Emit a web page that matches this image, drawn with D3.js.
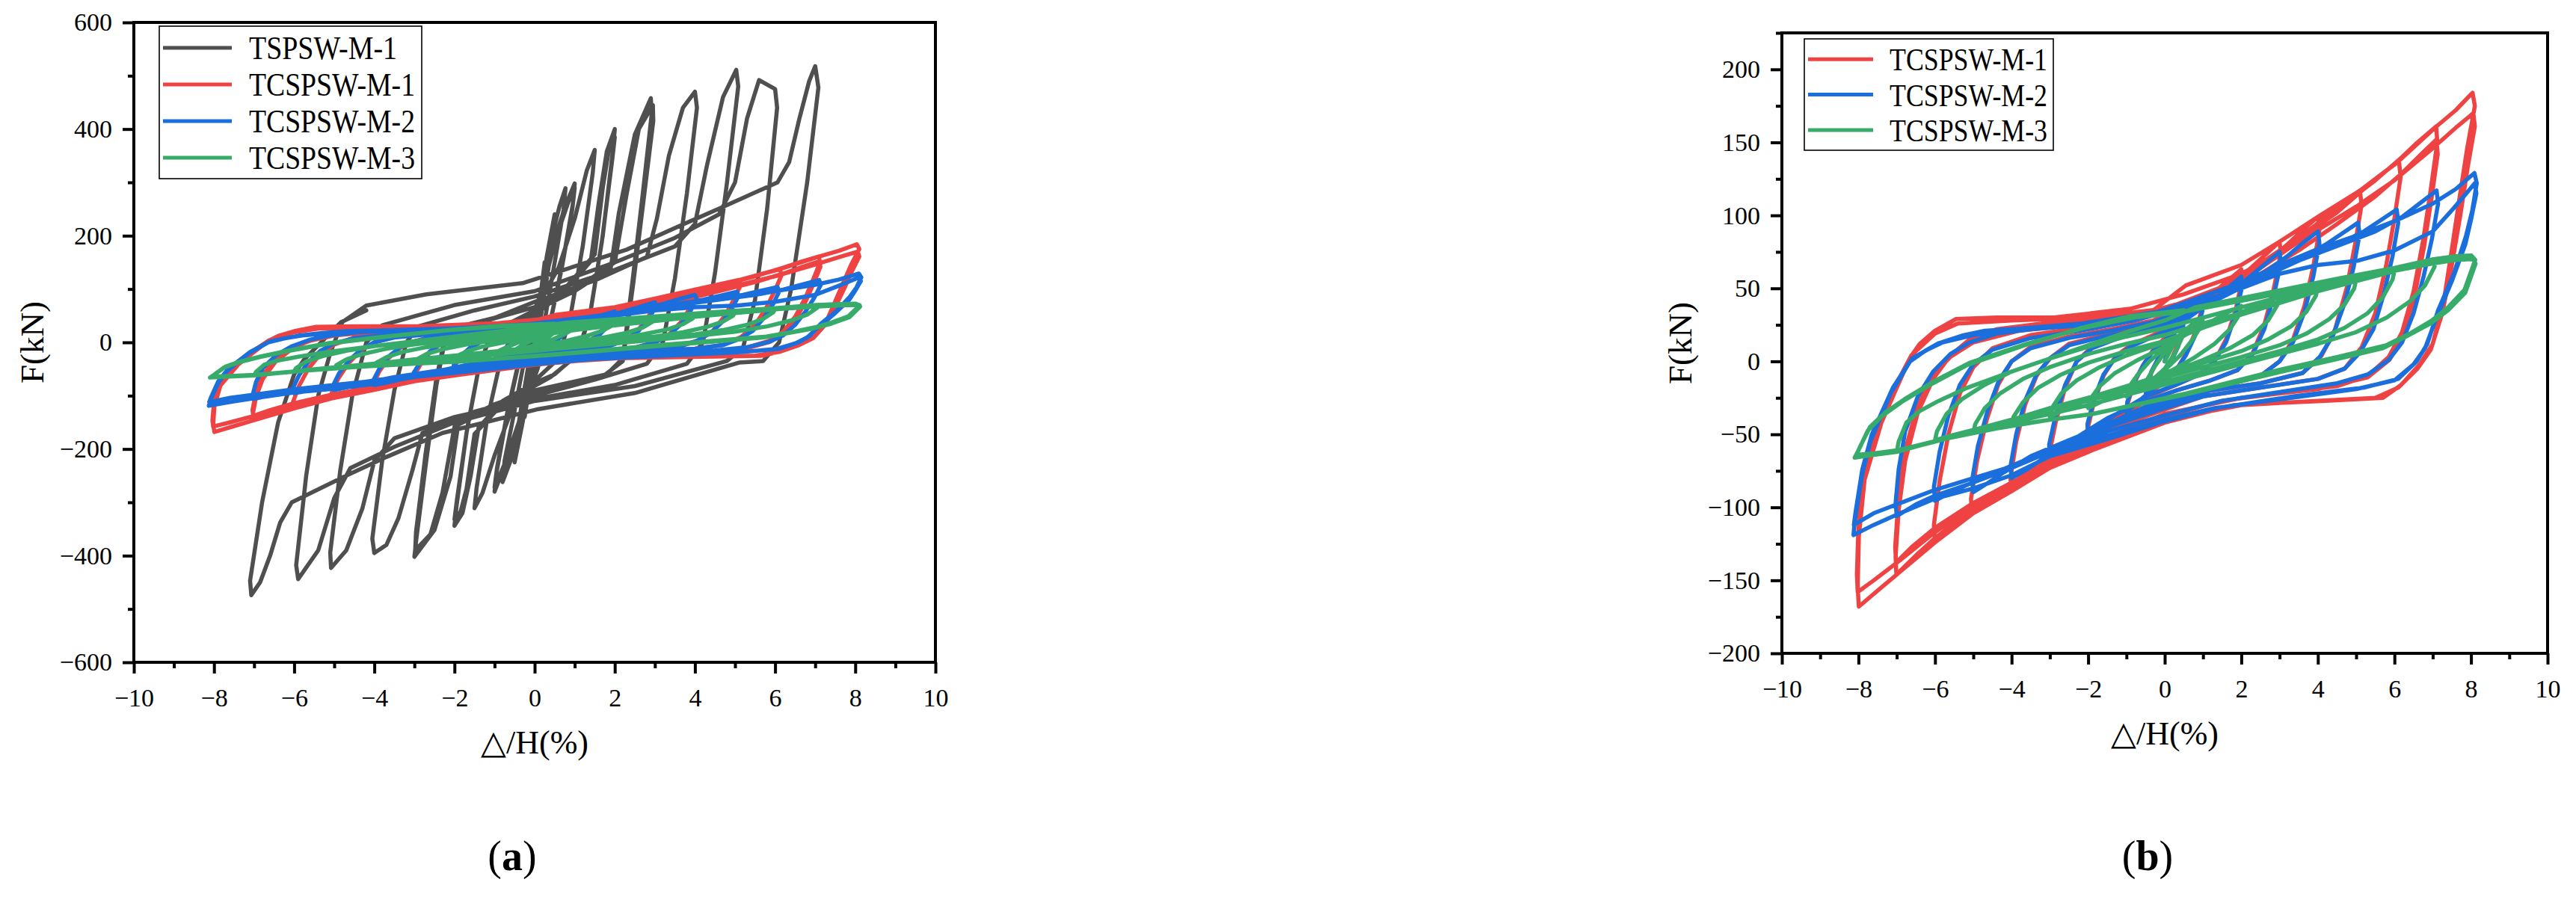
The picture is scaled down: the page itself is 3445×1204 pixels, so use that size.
<!DOCTYPE html>
<html>
<head>
    <meta charset="utf-8">
    <title>hysteresis curves</title>
    <script src="https://d3js.org/d3.v7.min.js"></script>
    <style>
        body{
            margin:0;
            background:#fff;
        }
        svg text{
            font-family:"Liberation Serif","Times New Roman",serif;
        }
    </style>
</head>
<body>
<div id="chart"></div>
<script type="text/javascript">
    // names, colours, ticks
    var namesA = ["TSPSW-M-1","TCSPSW-M-1","TCSPSW-M-2","TCSPSW-M-3"]
    var namesB = ["TCSPSW-M-1","TCSPSW-M-2","TCSPSW-M-3"]
    var colors = {"TSPSW-M-1":"#4f4f4f","TCSPSW-M-1":"#ef4343","TCSPSW-M-2":"#1b6fdc","TCSPSW-M-3":"#37ac6a"}
    var xTicks = [-10,-8,-6,-4,-2,0,2,4,6,8,10]
    var xMinor = [-9,-7,-5,-3,-1,1,3,5,7,9]
    var yTicksA = [-600,-400,-200,0,200,400,600]
    var yMinorA = [-500,-300,-100,100,300,500]
    var yTicksB = [-200,-150,-100,-50,0,50,100,150,200]
    var yMinorB = [-175,-125,-75,-25,25,75,125,175,225]

    // drift ratio (%) , force (kN) -- one array per cycle
    var tspswM1 = [
        [[0,0],[0.1,60],[0.25,150],[0.22,118],[0.1,40],[0,-18],[-0.1,-70],[-0.25,-140],[-0.22,-108],[-0.1,-38],[0,12]],
        [[0.1,62],[0.3,160],[0.5,240],[0.47,204],[0.3,118],[0.1,22],[-0.1,-62],[-0.3,-150],[-0.5,-225],[-0.47,-188],[-0.3,-108],[-0.1,-18],[0.02,28]],
        [[0.05,30],[0.3,150],[0.5,232],[0.46,196],[0.28,108],[0.08,14],[-0.12,-70],[-0.32,-158],[-0.5,-218],[-0.46,-180],[-0.28,-98],[-0.08,-10],[0.05,30]],
        [[0.15,90],[0.4,190],[0.62,255],[0.77,289],[0.72,248],[0.5,150],[0.25,40],[0,-50],[-0.3,-140],[-0.6,-222],[-0.8,-262],[-0.75,-222],[-0.5,-128],[-0.25,-30],[0,42]],
        [[0.2,112],[0.5,196],[0.8,262],[1.0,298],[0.95,258],[0.7,150],[0.4,42],[0.1,-40],[-0.3,-130],[-0.7,-222],[-1.0,-280],[-0.95,-244],[-0.7,-140],[-0.4,-40],[-0.2,22]],
        [[0.2,100],[0.55,200],[0.85,265],[1.0,290],[0.94,250],[0.68,140],[0.38,34],[0.08,-48],[-0.35,-140],[-0.75,-228],[-1.0,-272],[-0.94,-236],[-0.68,-130],[-0.38,-30],[-0.2,30]],
        [[0,62],[0.6,140],[1.0,232],[1.3,322],[1.5,361],[1.45,318],[1.2,180],[0.9,52],[0.6,-30],[0,-72],[-0.6,-132],[-1.0,-212],[-1.3,-282],[-1.5,-311],[-1.45,-274],[-1.2,-150],[-0.9,-50],[-0.6,10]],
        [[0,50],[0.8,100],[1.4,152],[1.6,262],[1.8,358],[2.0,400],[1.95,358],[1.7,200],[1.4,60],[1.1,-20],[0.5,-60],[0,-76],[-0.8,-110],[-1.4,-160],[-1.6,-252],[-1.8,-320],[-2.0,-344],[-1.95,-308],[-1.7,-170],[-1.4,-50],[-1.1,14]],
        [[0,55],[0.8,105],[1.5,165],[1.7,290],[1.85,360],[2.0,385],[1.94,345],[1.68,190],[1.38,52],[1.05,-25],[0.4,-65],[-0.8,-115],[-1.5,-172],[-1.7,-275],[-1.85,-318],[-2.0,-332],[-1.94,-296],[-1.68,-160],[-1.38,-42],[-1.05,20]],
        [[0,60],[1,96],[1.9,140],[2.1,242],[2.5,390],[2.9,458],[2.92,428],[2.7,280],[2.45,120],[2.2,-30],[1.8,-60],[0,-90],[-1,-116],[-1.9,-150],[-2.1,-252],[-2.5,-352],[-3.0,-402],[-2.95,-368],[-2.7,-220],[-2.45,-80],[-2.2,20]],
        [[0,66],[1,100],[2,150],[2.3,280],[2.6,400],[2.95,445],[2.96,415],[2.72,268],[2.46,110],[2.2,-35],[1.7,-64],[0,-95],[-1,-120],[-2,-158],[-2.3,-282],[-2.6,-360],[-2.98,-390],[-2.96,-356],[-2.72,-208],[-2.46,-72],[-2.2,24]],
        [[-1,46],[0,76],[1.5,116],[2.8,160],[3.05,232],[3.35,350],[3.7,440],[4.0,470],[4.05,440],[3.8,280],[3.5,120],[3.2,0],[2.8,-40],[1.5,-70],[0,-100],[-1.5,-130],[-2.8,-170],[-3.05,-240],[-3.4,-330],[-3.7,-380],[-4.0,-395],[-4.05,-368],[-3.8,-220],[-3.5,-90],[-3.2,0],[-2.9,30]],
        [[-1.5,60],[0,86],[2,136],[3.5,180],[4.0,222],[4.3,332],[4.7,460],[5.03,511],[5.08,480],[4.8,300],[4.5,130],[4.2,0],[3.8,-40],[2,-80],[0,-106],[-2,-140],[-3.5,-180],[-4.0,-222],[-4.3,-312],[-4.7,-390],[-5.08,-423],[-5.1,-394],[-4.85,-240],[-4.55,-100],[-4.2,0],[-3.8,32]],
        [[-2,70],[0,96],[2,150],[3.5,196],[4.6,240],[5.0,300],[5.3,420],[5.6,492],[6.0,475],[6.05,440],[5.8,250],[5.5,80],[5.2,-10],[4.8,-35],[2.5,-82],[0,-110],[-2,-150],[-3.5,-196],[-4.6,-236],[-5.0,-292],[-5.4,-390],[-5.9,-444],[-5.95,-418],[-5.7,-250],[-5.4,-100],[-5.1,-20],[-4.8,38]],
        [[-4.2,69],[-2.7,90],[-0.3,111],[2.3,174],[3.7,221],[4.7,254],[6.06,300],[6.35,338],[6.6,418],[6.85,490],[7.0,518],[7.08,478],[6.8,300],[6.4,100],[6.1,0],[5.7,-35],[5.1,-38],[2.5,-95],[0.1,-125],[-2.3,-170],[-3.7,-215],[-4.7,-250],[-6.06,-300],[-6.35,-338],[-6.6,-400],[-6.85,-450],[-7.07,-474],[-7.1,-447],[-6.8,-300],[-6.4,-150],[-6.0,-60],[-5.75,-32],[-4.83,38],[-4.2,60]]
    ]

    var tcspswM1 = [
        [[0,0],[0.15,14],[0.3,24],[0.5,33],[0.48,26],[0.35,12],[0.15,0],[-0.05,-8],[-0.25,-16],[-0.5,-25],[-0.48,-19],[-0.35,-8],[-0.15,3],[0.05,10]],
        [[0.2,20],[0.5,30],[0.8,40],[1.0,45],[0.98,37],[0.8,20],[0.55,5],[0.3,-6],[0,-14],[-0.4,-22],[-0.75,-31],[-1.0,-37],[-0.98,-30],[-0.8,-15],[-0.55,-2],[-0.3,8],[0,16]],
        [[0.3,26],[1,40],[1.5,52],[2.0,63],[2.02,56],[1.85,35],[1.6,15],[1.3,0],[0.9,-9],[0.3,-16],[-0.5,-25],[-1.2,-38],[-1.6,-46],[-2.0,-55],[-2.02,-47],[-1.85,-28],[-1.6,-10],[-1.3,3],[-0.9,11],[-0.3,18]],
        [[0.2,25],[1,40],[2,58],[2.5,70],[3.0,82],[3.03,74],[2.85,50],[2.6,25],[2.3,6],[1.9,-6],[1.2,-13],[0.3,-20],[-0.6,-29],[-1.5,-42],[-2.3,-57],[-3.0,-73],[-3.02,-64],[-2.85,-42],[-2.6,-18],[-2.3,0],[-1.9,10],[-1.2,17],[-0.4,22]],
        [[0.5,32],[1.5,47],[2.5,64],[3.2,80],[3.6,90],[4.0,99],[4.04,90],[3.88,65],[3.65,38],[3.35,15],[3.0,0],[2.5,-10],[1.5,-17],[0.5,-24],[-0.5,-32],[-1.5,-45],[-2.5,-60],[-3.2,-74],[-3.6,-82],[-4.0,-89],[-4.03,-80],[-3.88,-55],[-3.65,-30],[-3.35,-10],[-3.0,2],[-2.5,12],[-1.6,18],[-0.6,24]],
        [[0.4,34],[1.5,48],[2.5,64],[3.5,82],[4.2,100],[4.6,108],[5.1,117],[5.14,107],[4.97,80],[4.75,50],[4.45,22],[4.1,4],[3.6,-8],[2.5,-15],[1.2,-20],[0,-30],[-1.2,-42],[-2.5,-60],[-3.5,-74],[-4.2,-88],[-4.6,-96],[-5.04,-104],[-5.06,-94],[-4.9,-68],[-4.65,-40],[-4.35,-16],[-4.0,0],[-3.5,10],[-2.5,17],[-1.4,22],[-0.3,28]],
        [[0.3,36],[1.5,50],[2.5,66],[3.5,84],[4.5,102],[5.2,118],[5.6,127],[6.12,137],[6.16,126],[6.0,98],[5.78,65],[5.5,33],[5.15,10],[4.7,-5],[4.0,-12],[2.5,-18],[1,-24],[0,-33],[-1.5,-47],[-2.5,-61],[-3.5,-76],[-4.5,-92],[-5.2,-106],[-5.6,-114],[-6.0,-124],[-6.03,-112],[-5.88,-82],[-5.65,-50],[-5.35,-22],[-5.0,-4],[-4.5,9],[-3.5,18],[-2.2,23],[-0.8,30]],
        [[0.2,38],[1.5,51],[2.5,67],[3.5,85],[4.5,104],[5.5,124],[6.2,140],[6.6,150],[7.09,161],[7.12,150],[6.95,118],[6.75,83],[6.5,48],[6.2,20],[5.85,3],[5.3,-10],[4.5,-17],[3,-22],[1.5,-27],[0,-38],[-1.5,-52],[-3,-70],[-4,-86],[-5,-101],[-6,-121],[-6.5,-133],[-7.01,-146],[-7.03,-134],[-6.95,-102],[-6.78,-68],[-6.45,-35],[-6.05,-12],[-5.6,4],[-5.1,15],[-4.4,22],[-3.2,26],[-1.8,29],[-0.4,34]],
        [[1,44],[2.5,60],[3.5,76],[4.5,94],[5.5,113],[6.2,129],[6.7,142],[7.1,152],[7.13,142],[6.97,112],[6.77,78],[6.52,44],[6.22,17],[5.87,1],[5.3,-11],[4,-19],[2,-25],[0,-36],[-2,-57],[-3.5,-76],[-5,-97],[-6,-114],[-6.6,-127],[-7.02,-138],[-7.04,-127],[-6.96,-96],[-6.8,-63],[-6.48,-32],[-6.08,-10],[-5.6,3],[-5,13],[-3.8,21],[-2,26],[-0.5,31]],
        [[0.55,52],[2,66],[3,82],[4,99],[5.1,117],[6.1,137],[7.1,161],[7.6,172],[8.04,184],[8.1,175],[7.9,146],[7.7,112],[7.5,77],[7.3,43],[7.0,12],[6.66,-2],[6.18,-16],[5.7,-25],[4.2,-27],[1.8,-30],[0,-42],[-1.9,-61],[-3,-73],[-4,-89],[-5,-104],[-6,-124],[-7,-146],[-7.5,-157],[-7.99,-168],[-8.02,-155],[-7.99,-120],[-7.84,-81],[-7.4,-42],[-7,-18],[-6.64,3],[-6.4,12],[-6,21],[-5.45,29],[-4.4,30],[-2.9,30],[-0.9,36]],
        [[0.5,46],[2,60],[3,74],[4,90],[5,106],[6,124],[7,146],[7.6,160],[8.06,170],[8.1,161],[7.92,134],[7.72,100],[7.5,66],[7.25,33],[6.95,8],[6.6,-5],[6.1,-18],[5.5,-25],[4,-27],[2,-30],[0,-40],[-2,-59],[-3,-70],[-4,-84],[-5,-99],[-6,-117],[-7,-138],[-7.6,-150],[-8.02,-158],[-8.04,-146],[-8.0,-112],[-7.86,-76],[-7.42,-39],[-7.02,-16],[-6.62,4],[-6.0,19],[-5.4,26],[-4,28],[-2,30],[0,36]]
    ]

    var tcspswM2 = [
        [[0,0],[0.15,13],[0.3,22],[0.5,30],[0.48,23],[0.35,10],[0.15,-1],[-0.05,-8],[-0.25,-15],[-0.5,-24],[-0.48,-18],[-0.35,-7],[-0.15,3],[0.05,10]],
        [[0.2,18],[0.5,28],[0.8,37],[1.0,42],[0.98,34],[0.8,18],[0.55,4],[0.3,-6],[0,-13],[-0.4,-21],[-0.75,-29],[-1.0,-35],[-0.98,-28],[-0.8,-14],[-0.55,-2],[-0.3,7],[0,14]],
        [[0.3,24],[1,37],[1.5,47],[2.0,58],[2.02,51],[1.85,32],[1.6,13],[1.3,0],[0.9,-9],[0.3,-16],[-0.5,-24],[-1.2,-35],[-1.6,-42],[-2.0,-50],[-2.02,-43],[-1.85,-26],[-1.6,-9],[-1.3,2],[-0.9,10],[-0.3,17]],
        [[0.2,23],[1,37],[2,53],[2.5,64],[3.0,75],[3.03,67],[2.85,45],[2.6,22],[2.3,5],[1.9,-6],[1.2,-13],[0.3,-20],[-0.6,-28],[-1.5,-39],[-2.3,-52],[-3.0,-65],[-3.02,-57],[-2.85,-37],[-2.6,-16],[-2.3,0],[-1.9,9],[-1.2,16],[-0.4,21]],
        [[0.5,30],[1.5,44],[2.5,59],[3.2,72],[3.6,81],[4.0,89],[4.04,81],[3.88,58],[3.65,34],[3.35,13],[3.0,0],[2.5,-10],[1.5,-17],[0.5,-24],[-0.5,-31],[-1.5,-43],[-2.5,-56],[-3.2,-67],[-3.6,-74],[-4.0,-80],[-4.03,-72],[-3.88,-50],[-3.65,-27],[-3.35,-9],[-3.0,2],[-2.5,11],[-1.6,17],[-0.6,22]],
        [[0.4,31],[1.5,44],[2.5,57],[3.5,70],[4.2,80],[4.6,87],[5.05,95],[5.09,87],[4.93,64],[4.7,40],[4.4,18],[4.05,3],[3.6,-8],[2.5,-15],[1.2,-20],[0,-29],[-1.2,-40],[-2.5,-54],[-3.5,-65],[-4.2,-76],[-4.6,-83],[-5.0,-89.6],[-5.03,-81],[-4.88,-58],[-4.63,-34],[-4.33,-13],[-4.0,0],[-3.5,9],[-2.5,16],[-1.4,21],[-0.3,27]],
        [[0.3,33],[1.5,45],[2.5,57],[3.5,69],[4.5,80],[5.2,89],[5.6,96],[6.06,104],[6.1,95],[5.95,72],[5.72,46],[5.45,22],[5.1,6],[4.7,-5],[4,-12],[2.5,-18],[1,-24],[0,-32],[-1.5,-45],[-2.5,-56],[-3.5,-66],[-4.5,-77],[-5.2,-85],[-5.6,-90],[-6.0,-95.5],[-6.03,-86],[-5.88,-62],[-5.65,-37],[-5.35,-16],[-5.0,-2],[-4.5,8],[-3.5,16],[-2.2,21],[-0.8,28]],
        [[0.2,35],[1.5,46],[2.5,57],[3.5,69],[4.5,79],[5.5,89],[6.2,99],[6.6,107],[7.1,117],[7.14,108],[6.98,84],[6.76,58],[6.5,33],[6.2,13],[5.85,1],[5.3,-9],[4.5,-15],[3,-21],[1.5,-27],[0,-37],[-1.5,-48],[-3,-62],[-4,-73],[-5,-83],[-6,-92],[-6.5,-98],[-7.0,-106],[-7.03,-97],[-6.95,-74],[-6.78,-48],[-6.45,-24],[-6.05,-7],[-5.6,5],[-5.1,13],[-4.4,19],[-3.2,23],[-1.8,27],[-0.4,32]],
        [[0.5,40],[2,54],[3,66],[4,77],[5,86],[6,96],[7,108],[7.6,118],[8.09,129],[8.15,122],[8.03,103],[7.87,86],[7.55,60],[7.14,35],[6.86,12],[6.58,0],[6.1,-12],[5.2,-18],[3.36,-24],[1.35,-32],[0,-41],[-1.46,-53],[-3,-65],[-4,-78],[-5,-87],[-6,-94],[-7,-105],[-7.6,-112],[-8.13,-119],[-8.1,-110],[-7.9,-77],[-7.69,-55],[-7.16,-22],[-6.65,0],[-6.27,7],[-5.9,12.5],[-5.3,17.6],[-4.7,21],[-3.66,22.7],[-2.16,26],[-0.91,31]],
        [[0.5,37],[2,50],[3,60],[4,66],[5.05,69],[6,76],[7,89],[7.55,105],[8.1,122],[8.14,115],[8.0,97],[7.85,80],[7.5,55],[7.1,30],[6.8,9],[6.5,-2],[6.0,-13],[5,-19],[3.3,-25],[1.3,-32],[0,-40],[-1.5,-51],[-3,-62],[-4,-72],[-5,-80],[-6,-88],[-7,-98],[-7.6,-104],[-8.12,-112],[-8.08,-104],[-7.9,-74],[-7.65,-50],[-7.1,-18],[-6.6,2],[-6.2,8],[-5.8,13],[-5,18],[-3.5,22],[-2,25],[-0.5,30]]
    ]

    var tcspswM3 = [
        [[0,0],[0.2,10],[0.5,22],[0.45,16],[0.25,5],[0,-5],[-0.25,-11],[-0.5,-17],[-0.45,-12],[-0.25,-3],[0,6]],
        [[0.3,16],[0.7,25],[1.0,30],[0.95,24],[0.7,14],[0.4,4],[0,-6],[-0.4,-14],[-0.75,-20],[-1.0,-24],[-0.95,-18],[-0.7,-9],[-0.4,0],[0,9]],
        [[0.5,18],[1.2,27],[1.6,33],[2.0,38],[1.95,32],[1.7,22],[1.3,12],[0.8,3],[0.2,-6],[-0.5,-14],[-1.2,-22],[-1.6,-27],[-2.0,-32],[-1.95,-26],[-1.7,-17],[-1.3,-8],[-0.7,1],[0,10]],
        [[0.6,19],[1.5,28],[2.3,37],[2.7,41],[3.0,45],[2.95,39],[2.7,28],[2.3,18],[1.7,9],[1,1],[0,-9],[-1,-17],[-2,-26],[-2.6,-33],[-3.0,-38],[-2.95,-32],[-2.7,-22],[-2.3,-13],[-1.7,-4],[-1,4],[0,13]],
        [[1,23],[2,32],[3,41],[3.6,47],[4.0,51],[3.95,45],[3.7,34],[3.3,24],[2.7,15],[2,7],[1,-1],[0,-9],[-1,-17],[-2,-25],[-3,-33],[-3.6,-39],[-4.0,-44],[-3.95,-38],[-3.7,-28],[-3.3,-18],[-2.7,-9],[-2,-1],[-1,7],[0,14]],
        [[1,24],[2,32],[3,40],[4,48],[4.6,53],[5.0,56],[4.95,50],[4.7,39],[4.3,29],[3.7,19],[3,11],[2,3],[1,-4],[0,-11],[-1,-18],[-2,-25],[-3,-32],[-4,-40],[-4.6,-45],[-5.0,-49],[-4.95,-43],[-4.7,-32],[-4.3,-22],[-3.7,-12],[-3,-4],[-2,5],[-1,12],[0,18]],
        [[1,26],[2,33],[3,41],[4,48],[5,55],[5.6,59],[6.0,62],[5.95,56],[5.7,44],[5.3,33],[4.7,23],[4,15],[3,7],[2,0],[1,-7],[0,-14],[-1,-20],[-2,-27],[-3,-33],[-4,-40],[-5,-47],[-5.6,-51],[-6.0,-54],[-5.95,-48],[-5.7,-36],[-5.3,-26],[-4.7,-16],[-4,-7],[-3,2],[-2,10],[-1,17],[0,23]],
        [[1,30],[2,37],[3,44],[4,51],[5,57],[6,63],[6.6,67],[7.02,70],[7.05,65],[6.8,52],[6.4,41],[5.8,30],[5,20],[4,12],[3,5],[2,-2],[1,-9],[0,-16],[-1,-23],[-2,-30],[-3,-36],[-4,-42],[-5,-48],[-6,-55],[-6.6,-59],[-7.0,-62],[-6.95,-55],[-6.75,-42],[-6.4,-34],[-5.9,-27],[-5.15,-18],[-4,-7],[-3,2],[-2,11],[-1,20],[0,28]],
        [[0.79,37],[2.5,46],[4.57,57],[6,64],[7.02,70],[7.6,72],[8.01,72.5],[8.11,69.6],[7.83,49],[7.4,37],[6.98,28],[6.4,19],[5.78,11],[4.5,3],[2.96,-6],[0.55,-22],[-1.87,-36],[-3,-40],[-4.4,-45.5],[-5.9,-54],[-7,-62],[-7.6,-64],[-8.1,-66],[-8.0,-61],[-7.76,-47.6],[-7.39,-37.6],[-6.87,-27.8],[-6.12,-16],[-5.15,-2.4],[-3.66,11],[-2.16,23],[-0.9,31],[0.5,35]],
        [[0.5,34],[2.5,44],[4.5,55],[6,62],[7,67],[7.6,69.5],[8.05,70],[8.12,67],[7.85,47],[7.4,35],[6.95,26],[6.3,17],[5.7,9],[4.4,1],[2.9,-8],[0.5,-23],[-1.9,-36],[-3,-40],[-4.4,-46],[-5.9,-54],[-7,-61],[-7.6,-63],[-8.05,-64],[-7.95,-58],[-7.7,-45],[-7.3,-35],[-6.8,-26],[-6.05,-14],[-5.1,-1],[-3.6,12],[-2.1,23],[-0.8,30],[0.5,34]]
    ]

    var dataBySeries = {"TSPSW-M-1":tspswM1,"TCSPSW-M-1":tcspswM1,"TCSPSW-M-2":tcspswM2,"TCSPSW-M-3":tcspswM3}

    var w = 3445
    var h = 1204

    var svg = d3.select("#chart").append("svg")
        .attr("width",w)
        .attr("height",h)
    svg.append("rect").attr("width",w).attr("height",h).attr("fill","#fff")

    drawPanel({
        left:179, right:1251, top:30, bottom:886,
        yDomain:[-600,600], yTicks:yTicksA, yMinor:yMinorA,
        names:namesA,
        legend:{x:213, y:35, w:351, h:204, row:49, first:64, lineX:218, lineW:92, textX:333, font:44},
        textLen:{"TSPSW-M-1":198,"TCSPSW-M-1":222,"TCSPSW-M-2":222,"TCSPSW-M-3":222},
        caption:"a", capX:685
    })
    drawPanel({
        left:2383, right:3407, top:44, bottom:874,
        yDomain:[-200,225], yTicks:yTicksB, yMinor:yMinorB,
        names:namesB,
        legend:{x:2413, y:52, w:333, h:149, row:47.3, first:79.3, lineX:2418, lineW:87, textX:2527, font:42},
        textLen:{"TCSPSW-M-1":211,"TCSPSW-M-2":211,"TCSPSW-M-3":211},
        caption:"b", capX:2872
    })

    function drawPanel(p){
        var g = svg.append("g")
        var xScale = d3.scaleLinear().domain([-10,10]).range([p.left,p.right])
        var yScale = d3.scaleLinear().domain(p.yDomain).range([p.bottom,p.top])

        var line = d3.line()
            .x(function(d){return xScale(d[0])})
            .y(function(d){return yScale(d[1])})

        p.names.forEach(function(name){
            var cycles = dataBySeries[name]
            var pts = [].concat.apply([],cycles)
            g.append("path")
                .attr("d",line(pts))
                .attr("fill","none")
                .attr("stroke",colors[name])
                .attr("stroke-width",5.5)
                .attr("stroke-linejoin","round")
                .attr("stroke-linecap","round")
        })

        // minor ticks first, then labelled majors
        g.append("g")
            .attr("transform","translate(0,"+p.bottom+")")
            .call(d3.axisBottom(xScale).tickValues(xMinor).tickSize(8).tickSizeOuter(0).tickFormat(""))
        g.append("g")
            .attr("transform","translate(0,"+p.bottom+")")
            .call(d3.axisBottom(xScale).tickValues(xTicks).tickSize(15).tickSizeOuter(0).tickPadding(20))
        g.append("g")
            .attr("transform","translate("+p.left+",0)")
            .call(d3.axisLeft(yScale).tickValues(p.yMinor).tickSize(8).tickSizeOuter(0).tickFormat(""))
        g.append("g")
            .attr("transform","translate("+p.left+",0)")
            .call(d3.axisLeft(yScale).tickValues(p.yTicks).tickSize(15).tickSizeOuter(0).tickPadding(14))

        g.selectAll(".domain").remove()
        g.selectAll(".tick line").attr("stroke","#000").attr("stroke-width",4)
        g.selectAll(".tick text")
            .attr("fill","#000")
            .style("font-size","34px")
            .style("font-family","'Liberation Serif','Times New Roman',serif")

        g.append("rect")
            .attr("x",p.left).attr("y",p.top)
            .attr("width",p.right-p.left).attr("height",p.bottom-p.top)
            .attr("fill","none").attr("stroke","#000").attr("stroke-width",4)

        // axis titles
        g.append("text").text("\u25B3/H(%)")
            .attr("x",(p.left+p.right)/2).attr("y",p.bottom+122)
            .attr("text-anchor","middle")
            .style("font-size","44px")
        g.append("text").text("F(kN)")
            .attr("transform","translate("+(p.left-121)+","+((p.top+p.bottom)/2)+") rotate(-90)")
            .attr("text-anchor","middle")
            .style("font-size","45px")

        // legend
        var L = p.legend
        g.append("rect")
            .attr("x",L.x).attr("y",L.y).attr("width",L.w).attr("height",L.h)
            .attr("fill","#fff").attr("stroke","#000").attr("stroke-width",1.6)
        p.names.forEach(function(name,i){
            var ly = L.first + i*L.row
            g.append("line")
                .attr("x1",L.lineX).attr("x2",L.lineX+L.lineW)
                .attr("y1",ly).attr("y2",ly)
                .attr("stroke",colors[name]).attr("stroke-width",5)
            g.append("text").text(name)
                .attr("x",L.textX).attr("y",ly+15)
                .attr("textLength",p.textLen[name])
                .attr("lengthAdjust","spacingAndGlyphs")
                .style("font-size",L.font+"px")
        })

        // panel caption
        var cap = g.append("text")
            .attr("x",p.capX).attr("y",1164)
            .attr("text-anchor","middle")
            .style("font-size","56px")
        cap.append("tspan").text("(")
        cap.append("tspan").text(p.caption).style("font-weight","bold")
        cap.append("tspan").text(")")
    }
</script>
</body>
</html>
